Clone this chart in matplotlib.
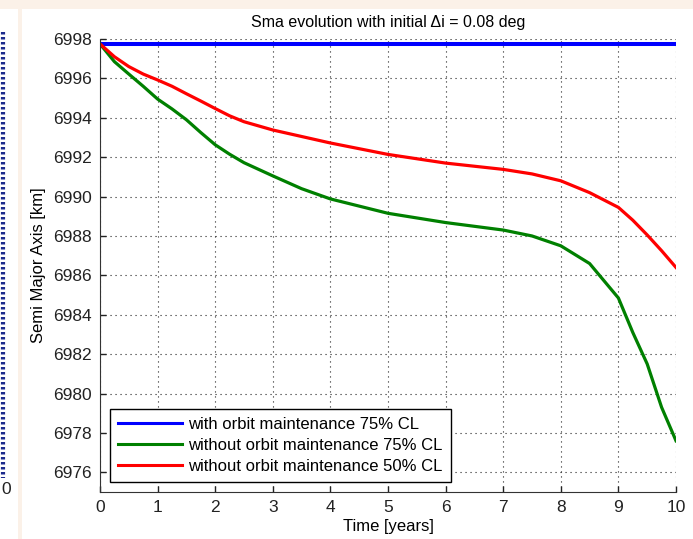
import numpy as np
import matplotlib
matplotlib.use('Agg')
import matplotlib.pyplot as plt
from matplotlib.patches import Rectangle
from matplotlib.lines import Line2D

plt.rcParams['font.family'] = ['Liberation Sans', 'DejaVu Sans']

# data
t_blue = [0, 10]
sma_blue = [6997.75, 6997.75]

t = [0, 0.25, 0.5, 0.75, 1, 1.25, 1.5, 1.75, 2, 2.25, 2.5, 3, 3.5, 4, 5, 6,
     7, 7.5, 8, 8.5, 9, 9.25, 9.5, 9.75, 10]
sma_green = [6997.75, 6996.85, 6996.22, 6995.6, 6994.95, 6994.45, 6993.9,
             6993.25, 6992.63, 6992.15, 6991.72, 6991.05, 6990.4, 6989.88,
             6989.15, 6988.68, 6988.3, 6988.0, 6987.5, 6986.6, 6984.85,
             6983.1, 6981.5, 6979.3, 6977.6]
sma_red = [6997.75, 6997.1, 6996.6, 6996.22, 6995.92, 6995.6, 6995.22,
           6994.85, 6994.47, 6994.1, 6993.8, 6993.38, 6993.05, 6992.72,
           6992.14, 6991.7, 6991.38, 6991.15, 6990.8, 6990.2, 6989.45,
           6988.8, 6988.05, 6987.25, 6986.4]

labels = ['with orbit maintenance 75% CL',
          'without orbit maintenance 75% CL',
          'without orbit maintenance 50% CL']

fig = plt.figure(figsize=(6.93, 5.39), dpi=100, facecolor='white')

# screenshot surroundings
fig.add_artist(Rectangle((0, 1 - 9/539), 1, 9/539, transform=fig.transFigure,
                         facecolor='#fbf1e8', edgecolor='none'))
fig.add_artist(Rectangle((18/693, 0), 4/693, 1, transform=fig.transFigure,
                         facecolor='#fbf1e8', edgecolor='none'))
fig.add_artist(Line2D([3/693, 3/693], [1 - 32/539, 1 - 478/539],
                      transform=fig.transFigure, color='#1c2a8c', lw=3,
                      ls=(0, (0.6, 0.6))))
fig.text(1/693, 1 - 490/539, '0', fontsize=12.5, ha='left', va='center',
         color='#222222')

ax = fig.add_axes([100/693, 1 - 492/539, 576/693, 453/539])
ax.plot(t_blue, sma_blue, color='#0000ff', lw=2.9, label=labels[0])
ax.plot(t, sma_green, color='#008000', lw=2.3, label=labels[1])
ax.plot(t, sma_red, color='#ff0000', lw=2.3, label=labels[2])

ax.set_xlim(0, 10)
ax.set_ylim(6975, 6998)
ax.set_xticks(np.arange(0, 11, 1))
ax.set_yticks(np.arange(6976, 6999, 2))
ax.grid(True, color='#222222', ls=(0, (1, 3.5)), lw=0.8)
ax.spines['top'].set_visible(False)
ax.spines['right'].set_visible(False)
ax.spines['left'].set_color('#333333')
ax.spines['bottom'].set_color('#333333')
ax.tick_params(direction='in', length=4, width=1, labelsize=12.5, pad=6,
               colors='#222222')

ax.set_title('Sma evolution with initial \u0394i = 0.08 deg', fontsize=11.5,
             pad=9)
ax.set_xlabel('Time [years]', fontsize=12, labelpad=3)
ax.set_ylabel('Semi Major Axis [km]', fontsize=12, labelpad=5)

leg = ax.legend(loc='lower left', fontsize=12, fancybox=False,
                edgecolor='black', framealpha=1, borderaxespad=0.6,
                handlelength=3.8, handletextpad=0.4, labelspacing=0.35,
                borderpad=0.5)
leg.get_frame().set_linewidth(1)
for ln in leg.get_lines():
    ln.set_linewidth(2.2)

fig.savefig('out.png', dpi=100)
